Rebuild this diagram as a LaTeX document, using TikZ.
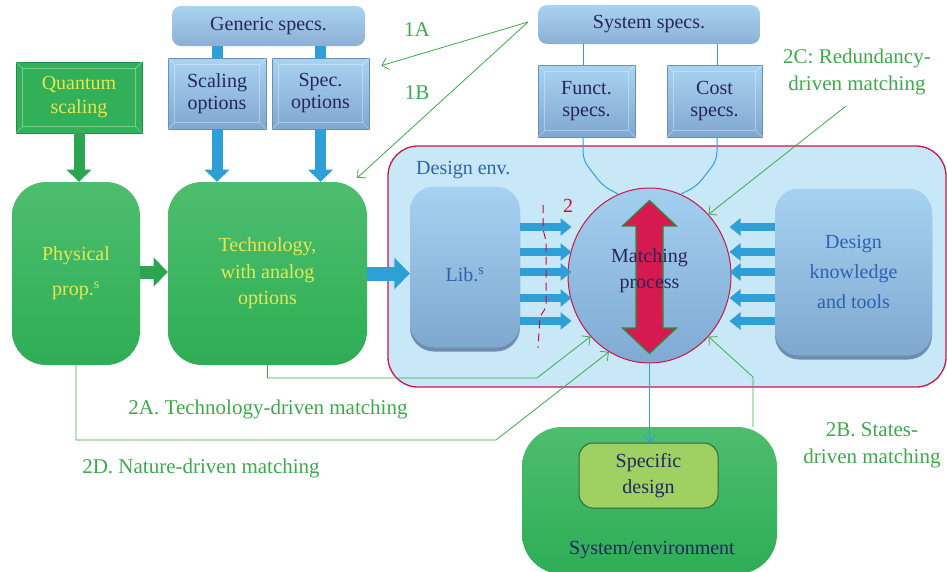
\documentclass[tikz,border=0pt]{standalone}
\usepackage{fontspec}
\setmainfont{Liberation Serif}
\usetikzlibrary{arrows.meta,shapes.geometric,shadows,calc}
\definecolor{gTop}{HTML}{4DBE6E}
\definecolor{gBot}{HTML}{2EAD56}
\definecolor{gFlat}{HTML}{31AF59}
\definecolor{yel}{HTML}{E8E84E}
\definecolor{bbTop}{HTML}{A9D3F1}
\definecolor{bbBot}{HTML}{7FA7D0}
\definecolor{bbEdge}{HTML}{6A8FB6}
\definecolor{navy}{HTML}{26265F}
\definecolor{envFill}{HTML}{C9E8F7}
\definecolor{crim}{HTML}{C8174A}
\definecolor{libTop}{HTML}{A6D2F1}
\definecolor{libBot}{HTML}{7FA8CF}
\definecolor{libShadow}{HTML}{6F8DAE}
\definecolor{libText}{HTML}{2E62B0}
\definecolor{mpTop}{HTML}{A3CFEF}
\definecolor{mpBot}{HTML}{80AAD3}
\definecolor{redA}{HTML}{D61A50}
\definecolor{redEdge}{HTML}{2E8B3E}
\definecolor{glab}{HTML}{3BAA4A}
\definecolor{bArrow}{HTML}{2F9FD8}
\definecolor{gArrow}{HTML}{2CA552}
\definecolor{bline}{HTML}{2FA0DC}
\definecolor{specFill}{HTML}{9FD162}
\definecolor{specEdge}{HTML}{2F6B3A}
\definecolor{twoRed}{HTML}{C8102E}
\newcommand{\fz}[2]{\fontsize{#1}{#2}\selectfont}
\begin{document}
\begin{tikzpicture}[x=1pt,y=-1pt,
  greenbox/.style={rectangle, rounded corners=34pt, top color=gTop, bottom color=gBot, draw=none, text=yel, align=center, inner sep=0pt},
  bevelbox/.style={rectangle, top color=bbTop, bottom color=bbBot, draw=bbEdge, line width=0.8pt, text=navy, align=center, inner sep=0pt, font=\fz{20}{22}},
  specbox/.style={rectangle, rounded corners=9pt, top color=bbTop, bottom color=bbBot!90!white, draw=none, text=navy, align=center, inner sep=0pt, font=\fz{20}{24}},
  libbox/.style={rectangle, rounded corners=24pt, top color=libTop, bottom color=libBot, draw=none, text=libText, align=center, inner sep=0pt,
     general shadow={shadow xshift=0pt, shadow yshift=-4pt, fill=libShadow, opacity=1}},
  glabel/.style={text=glab, align=center, font=\fz{21}{27}, inner sep=0pt},
  glink/.style={draw=glab, line width=0.8pt, -{Straight Barb[length=6pt,width=12pt]}},
  blink/.style={draw=bline, line width=1pt},
  bigarrow/.style={line width=#1, -{Triangle[width=2.2*#1, length=1.1*#1]}},
  smallarrow/.style={draw=bArrow, line width=8pt, -{Triangle[width=17pt,length=11pt]}},
  bevelline/.style={draw=white, opacity=0.35, line width=0.7pt}
]
\useasboundingbox (0,0) rectangle (947,571);

% ---- design environment background ----
\node[rectangle, rounded corners=30pt, fill=envFill, draw=crim, line width=1.3pt, minimum width=558pt, minimum height=241pt, inner sep=0pt] (env) at (667,266.5) {};
\node[text=libText, font=\fz{20}{24}, anchor=base west, inner sep=0pt] (envt) at (416,174) {Design env.};

% ---- top blocks ----
\node[specbox, minimum width=193pt, minimum height=40pt] (gen) at (268.5,26) {Generic specs.};
\node[bevelbox, minimum width=98pt, minimum height=71pt] (scal) at (217,93.5) {Scaling\\options};
\node[bevelbox, minimum width=97pt, minimum height=71pt] (sopt) at (320.5,93.5) {Spec.\\options};
\node[rectangle, fill=gFlat, draw=gFlat!80!black, line width=0.6pt, text=yel, align=center, inner sep=0pt, font=\fz{20}{24}, minimum width=126pt, minimum height=71pt] (quant) at (79,97.5) {Quantum\\scaling};

\node[specbox, minimum width=222pt, minimum height=39pt] (sys) at (649,24.5) {System specs.};
\node[bevelbox, minimum width=97pt, minimum height=72pt] (funct) at (586.5,101) {Funct.\\specs.};
\node[bevelbox, minimum width=95pt, minimum height=72pt] (cost) at (714.5,101) {Cost\\specs.};

% bevel decorations
\foreach \n in {scal,sopt,funct,cost,quant}{
  \draw[bevelline] ([shift={(7,7)}]\n.north west) rectangle ([shift={(-7,-7)}]\n.south east);
  \draw[bevelline] (\n.north west) -- ([shift={(7,7)}]\n.north west);
  \draw[bevelline] (\n.north east) -- ([shift={(-7,7)}]\n.north east);
  \draw[bevelline] (\n.south west) -- ([shift={(7,-7)}]\n.south west);
  \draw[bevelline] (\n.south east) -- ([shift={(-7,-7)}]\n.south east);
}

% ---- main green blocks ----
\node[greenbox, minimum width=128pt, minimum height=183pt, font=\fz{20}{35}] (phys) at (76,273.5) {Physical\\prop.\textsuperscript{s}};
\node[greenbox, minimum width=199pt, minimum height=183pt, font=\fz{20}{26.5}] (tech) at (267.5,273.5) {Technology,\\with analog\\options};

% ---- design env contents ----
\node[libbox, minimum width=110pt, minimum height=161pt] (lib) at (465,267) {};
\node[text=libText, font=\fz{20}{24}, inner sep=0pt] (libt) at ([yshift=-8pt]lib.center) {Lib.\textsuperscript{s}};
\node[libbox, minimum width=157pt, minimum height=167pt, font=\fz{20}{30}] (dk) at (853.5,272) {Design\\knowledge\\and tools};

\node[ellipse, minimum width=163pt, minimum height=175pt, inner sep=0pt, top color=mpTop, bottom color=mpBot, draw=crim, line width=1pt] (mp) at (649.5,275.5) {};
\begin{scope}[shift={(mp.center)}, yshift=-1.5pt]
  \draw[fill=redA, draw=redEdge, line width=1.2pt, line join=miter]
    (0,-76.5) -- (27,-51) -- (13.5,-51) -- (13.5,51) -- (27,51) -- (0,76.5)
    -- (-27,51) -- (-13.5,51) -- (-13.5,-51) -- (-27,-51) -- cycle;
\end{scope}
\node[text=navy, align=center, font=\fz{20}{26}, inner sep=0pt] (mpt) at ([yshift=5pt]mp.center) {Matching\\process};

% small arrows
\foreach \y in {227,252,272,298,321}{
  \draw[smallarrow, shorten >=-4pt] (lib.east |- 0,\y) -- (mp.west |- 0,\y);
  \draw[smallarrow, shorten >=-2pt] (dk.west |- 0,\y) -- (mp.east |- 0,\y);
}
\draw[draw=twoRed, line width=1pt, dash pattern=on 8pt off 5pt, rounded corners=4pt]
  (543,205) -- (543,230) -- (546,240) -- (546,308) -- (540,316) -- (538,348);
\node[text=twoRed, font=\fz{20}{24}, inner sep=0pt] (two) at (568,206) {2};

% ---- system / environment ----
\node[rectangle, rounded corners=40pt, top color=gTop, bottom color=gBot, minimum width=255pt, minimum height=147pt, inner sep=0pt] (sysenv) at (649.5,500.5) {};
\node[text=navy, font=\fz{20}{24}, inner sep=0pt] (sysent) at (652,550) {System/environment};
\node[rectangle, rounded corners=14pt, fill=specFill, draw=specEdge, line width=1pt, minimum width=139pt, minimum height=65pt, text=navy, align=center, inner sep=0pt, font=\fz{20}{26}] (spec) at (648.5,475.5) {Specific\\design};

% ---- block arrows ----
\draw[line width=11pt, draw=bArrow] (scal.north |- gen.south) -- (scal.north);
\draw[line width=11pt, draw=bArrow] (sopt.north |- gen.south) -- (sopt.north);
\draw[bigarrow=11pt, draw=bArrow] (scal.south) -- (scal.south |- tech.north);
\draw[bigarrow=11pt, draw=bArrow] (sopt.south) -- (sopt.south |- tech.north);
\draw[bigarrow=11pt, draw=gArrow] (quant.south) -- (quant.south |- phys.north);
\draw[bigarrow=13pt, draw=gArrow] (phys.east |- 0,272) -- (tech.west |- 0,272);
\draw[bigarrow=14pt, draw=bArrow] (tech.east) -- (tech.east -| lib.west);

% ---- thin blue connectors ----
\draw[blink] (sys.south -| 583,0) -- (funct.north -| 583,0);
\draw[blink] (sys.south -| 717,0) -- (cost.north -| 717,0);
\draw[blink, rounded corners=8pt] (funct.south -| 583,0) -- (583,160) -- (603,186) -- (mp.111);
\draw[blink, rounded corners=8pt] (cost.south -| 717,0) -- (717,160) -- (697,186) -- (mp.69);
\draw[blink, -{Straight Barb[length=6pt,width=12pt]}] (mp.south) -- (mp.south |- spec.north);

% ---- green labels and links ----
\node[glabel] (l1a) at (417,30) {1A};
\node[glabel] (l1b) at (417,93) {1B};
\node[glabel] (l2c) at (857,72) {2C: Redundancy-\\driven matching};
\node[glabel] (l2a) at (268,409) {2A. Technology-driven matching};
\node[glabel] (l2d) at (201,468) {2D. Nature-driven matching};
\node[glabel] (l2b) at (872,445) {2B. States-\\driven matching};

\coordinate (c1) at (528,22);
\coordinate (c2c) at (846,106);
\coordinate (k2a) at (537,378);
\coordinate (k2d) at (496,440);
\coordinate (c2b) at (753,427);
\coordinate (k2b) at (753,377);
\draw[glink] (c1) -- ([shift={(12,8)}]sopt.north east);
\draw[glink] (c1) -- ([shift={(-10,-4)}]tech.north east);
\draw[glink] (c2c) -- (mp.46);
\draw[glink] (tech.south) |- (k2a) -- (mp.226);
\draw[glink] (phys.south) |- (k2d) -- (mp.242);
\draw[glink] (c2b) -- (k2b) -- (mp.314);
\end{tikzpicture}
\end{document}
